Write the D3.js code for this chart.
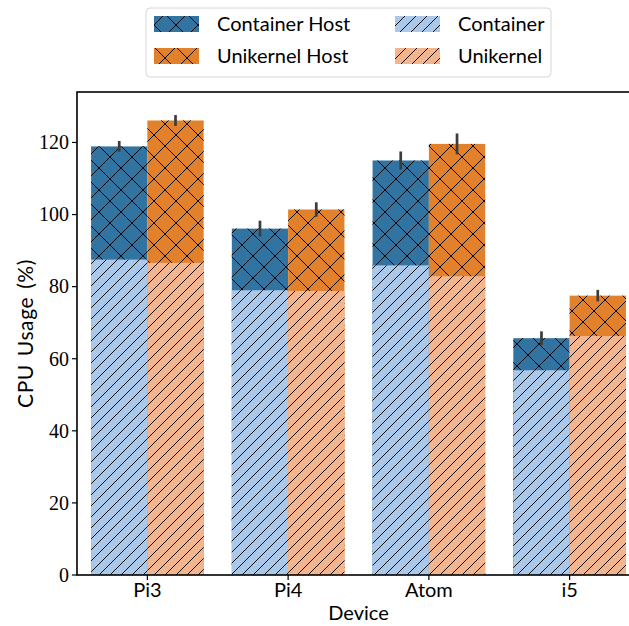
<html>
<head>
<meta charset="utf-8" />
<title>CPU Usage per Device</title>
<script src="https://d3js.org/d3.v7.min.js"></script>
<style>
  body { margin: 0; background: white; }
  .sans { font-family: "Lato", "Liberation Sans", sans-serif; }
  .serif { font-family: "Liberation Serif", serif; }
</style>
</head>
<body>
<script>
// values
var devices = ["Pi3", "Pi4", "Atom", "i5"];
var containerHost = [118.9, 96.1, 115.0, 65.7];
var containerHostErr = [1.5, 2.2, 2.5, 1.9];
var unikernelHost = [126.1, 101.4, 119.6, 77.5];
var unikernelHostErr = [1.5, 2.0, 2.9, 1.6];
var container = [87.5, 79.0, 85.9, 56.8];
var unikernel = [86.6, 78.8, 82.9, 66.3];
var yTicks = [0, 20, 40, 60, 80, 100, 120];
var legendLabels = [["Container Host", "Unikernel Host"], ["Container", "Unikernel"]];

var W = 629, H = 626;
var margin = {left: 77, top: 92, right: 640, bottom: 575};

var x = d3.scaleLinear().domain([-0.5, 3.5]).range([margin.left, margin.right]);
var y = d3.scaleLinear().domain([0, 134]).range([margin.bottom, margin.top]);
var barW = x(0.4) - x(0);

var colors = {
  containerHost: "#3274a1",
  unikernelHost: "#e1812c",
  container: "#aac8ea",
  unikernel: "#f2b58e"
};

var svg = d3.select("body").append("svg")
    .attr("width", W)
    .attr("height", H);

// hatch patterns
var defs = svg.append("defs");
var T = 22;
var cross = defs.append("pattern")
    .attr("id", "hatchX")
    .attr("patternUnits", "userSpaceOnUse")
    .attr("width", T).attr("height", T)
    .attr("x", 0).attr("y", margin.bottom % T);
[-1, 0, 1].forEach(function(k) {
  cross.append("line").attr("x1", k * T).attr("y1", 0).attr("x2", k * T + T).attr("y2", T)
      .attr("stroke", "#000").attr("stroke-width", 1);
  cross.append("line").attr("x1", k * T).attr("y1", T).attr("x2", k * T + T).attr("y2", 0)
      .attr("stroke", "#000").attr("stroke-width", 1);
});

var S = T / 2;
var slash = defs.append("pattern")
    .attr("id", "hatchS")
    .attr("patternUnits", "userSpaceOnUse")
    .attr("width", S).attr("height", S)
    .attr("x", 0).attr("y", margin.bottom % S);
[-1, 0, 1].forEach(function(k) {
  slash.append("line").attr("x1", k * S).attr("y1", S).attr("x2", k * S + S).attr("y2", 0)
      .attr("stroke", "#111").attr("stroke-width", 1);
});

function bars(values, offset, color, hatch) {
  var g = svg.append("g");
  g.selectAll("rect.fill")
    .data(values)
    .enter().append("rect")
      .attr("x", function(d, i) { return x(i + offset); })
      .attr("y", function(d) { return y(d); })
      .attr("width", barW)
      .attr("height", function(d) { return y(0) - y(d); })
      .attr("fill", color);
  g.selectAll("rect.hatch")
    .data(values)
    .enter().append("rect")
      .attr("x", function(d, i) { return x(i + offset); })
      .attr("y", function(d) { return y(d); })
      .attr("width", barW)
      .attr("height", function(d) { return y(0) - y(d); })
      .attr("fill", "url(#" + hatch + ")");
}

function errbars(values, errs, offset) {
  svg.append("g").selectAll("line")
    .data(values)
    .enter().append("line")
      .attr("x1", function(d, i) { return x(i + offset + 0.2); })
      .attr("x2", function(d, i) { return x(i + offset + 0.2); })
      .attr("y1", function(d, i) { return y(d - errs[i]); })
      .attr("y2", function(d, i) { return y(d + errs[i]); })
      .attr("stroke", "#3c3c3c")
      .attr("stroke-width", 2.7);
}

bars(containerHost, -0.4, colors.containerHost, "hatchX");
bars(unikernelHost, 0, colors.unikernelHost, "hatchX");
bars(container, -0.4, colors.container, "hatchS");
bars(unikernel, 0, colors.unikernel, "hatchS");
errbars(containerHost, containerHostErr, -0.4);
errbars(unikernelHost, unikernelHostErr, 0);

// frame
svg.append("rect")
    .attr("x", margin.left).attr("y", margin.top)
    .attr("width", margin.right - margin.left)
    .attr("height", margin.bottom - margin.top)
    .attr("fill", "none")
    .attr("stroke", "#000")
    .attr("stroke-width", 1.6);

// y axis
var yAxis = svg.append("g");
yTicks.forEach(function(t) {
  yAxis.append("line")
      .attr("x1", margin.left - 5).attr("x2", margin.left)
      .attr("y1", y(t)).attr("y2", y(t))
      .attr("stroke", "#000").attr("stroke-width", 1.2);
  yAxis.append("text")
      .attr("class", "serif")
      .attr("x", margin.left - 8)
      .attr("y", y(t))
      .attr("dy", "0.34em")
      .attr("text-anchor", "end")
      .attr("font-size", 20)
      .text(t);
});

// x axis
var xAxis = svg.append("g");
devices.forEach(function(d, i) {
  xAxis.append("line")
      .attr("x1", x(i)).attr("x2", x(i))
      .attr("y1", margin.bottom).attr("y2", margin.bottom + 5)
      .attr("stroke", "#000").attr("stroke-width", 1.2);
  xAxis.append("text")
      .attr("class", "sans")
      .attr("x", x(i))
      .attr("y", 597)
      .attr("text-anchor", "middle")
      .attr("font-size", 20)
      .text(d);
});

svg.append("text")
    .attr("class", "sans")
    .attr("x", (margin.left + margin.right) / 2)
    .attr("y", 620)
    .attr("text-anchor", "middle")
    .attr("font-size", 20)
    .text("Device");

svg.append("text")
    .attr("class", "sans")
    .attr("transform", "translate(33," + (margin.top + margin.bottom) / 2 + ")rotate(-90)")
    .attr("text-anchor", "middle")
    .attr("font-size", 21)
    .attr("letter-spacing", "0.6px")
    .attr("word-spacing", "2px")
    .text("CPU Usage (%)");

// legend
var legend = svg.append("g");
legend.append("rect")
    .attr("x", 146).attr("y", 8)
    .attr("width", 405).attr("height", 69)
    .attr("rx", 4)
    .attr("fill", "white")
    .attr("stroke", "#d6d6d6")
    .attr("stroke-width", 1);

var legendItems = [
  {col: 0, row: 0, color: colors.containerHost, hatch: "hatchX"},
  {col: 0, row: 1, color: colors.unikernelHost, hatch: "hatchX"},
  {col: 1, row: 0, color: colors.container, hatch: "hatchS"},
  {col: 1, row: 1, color: colors.unikernel, hatch: "hatchS"}
];
var colX = [154, 395];
legendItems.forEach(function(it) {
  var px = colX[it.col], cy = 24 + it.row * 32;
  legend.append("rect").attr("x", px).attr("y", cy - 8).attr("width", 45).attr("height", 16)
      .attr("fill", it.color);
  legend.append("rect").attr("x", px).attr("y", cy - 8).attr("width", 45).attr("height", 16)
      .attr("fill", "url(#" + it.hatch + ")");
  legend.append("text")
      .attr("class", "sans")
      .attr("x", px + 63)
      .attr("y", cy)
      .attr("dy", "0.35em")
      .attr("font-size", 20)
      .text(legendLabels[it.col][it.row]);
});
</script>
</body>
</html>
